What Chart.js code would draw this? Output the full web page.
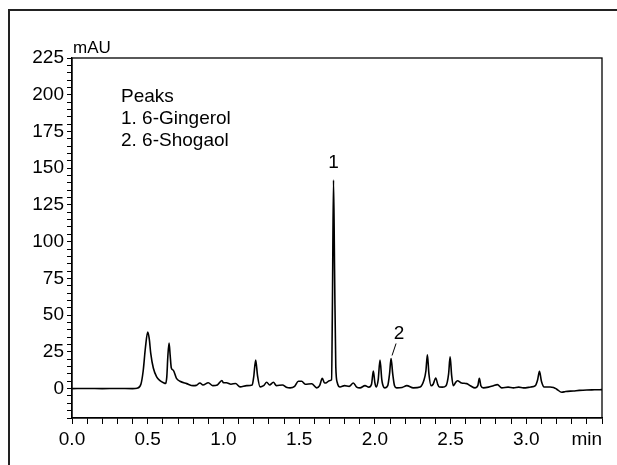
<!DOCTYPE html>
<html>
<head>
<meta charset="utf-8">
<script src="https://cdn.jsdelivr.net/npm/chart.js@4/dist/chart.umd.min.js"></script>
<style>
  html, body { margin: 0; padding: 0; background: #fff; }
  #wrap { width: 617px; height: 465px; }
</style>
</head>
<body>
<div id="wrap"><canvas id="chrom"></canvas></div>
<script>
// retention time (min) and absorbance (mAU)
const times = [
    0.00, 0.10, 0.20, 0.30, 0.40, 0.43, 0.455, 0.47, 0.485, 0.50,
    0.51, 0.52, 0.537, 0.559, 0.581, 0.605, 0.618, 0.626, 0.633, 0.641,
    0.648, 0.656, 0.669, 0.69, 0.713, 0.757, 0.80, 0.82, 0.845, 0.865,
    0.90, 0.93, 0.96, 0.99, 1.00, 1.02, 1.05, 1.08, 1.11, 1.154,
    1.19, 1.20, 1.213, 1.225, 1.242, 1.265, 1.286, 1.305, 1.33, 1.35,
    1.39, 1.415, 1.44, 1.47, 1.495, 1.517, 1.54, 1.583, 1.616, 1.635,
    1.653, 1.668, 1.68, 1.70, 1.714, 1.72, 1.727, 1.734, 1.742, 1.752,
    1.77, 1.80, 1.83, 1.858, 1.88, 1.902, 1.935, 1.96, 1.978, 1.99,
    2.00, 2.008, 2.022, 2.034, 2.046, 2.06, 2.067, 2.085, 2.097, 2.107,
    2.118, 2.13, 2.144, 2.18, 2.211, 2.254, 2.299, 2.325, 2.337, 2.347,
    2.357, 2.371, 2.385, 2.402, 2.415, 2.426, 2.446, 2.47, 2.487, 2.497,
    2.507, 2.518, 2.532, 2.545, 2.573, 2.607, 2.63, 2.662, 2.68, 2.69,
    2.70, 2.717, 2.75, 2.783, 2.809, 2.838, 2.88, 2.915, 2.95, 2.981,
    3.03, 3.06, 3.075, 3.087, 3.10, 3.118, 3.157, 3.18, 3.201, 3.234,
    3.26, 3.311, 3.35, 3.399, 3.45, 3.50
];
const mau = [
    0, 0.1, 0, 0.1, 0, 0.3, 3, 12, 28, 38.5,
    34, 24, 14, 8, 5.5, 4, 3.5, 8, 22, 31,
    23, 14, 12.5, 7, 5, 3.4, 2, 2.2, 3.8, 2.5,
    4, 2, 2.5, 5.5, 4, 4, 3, 3.5, 1.2, 2,
    2.5, 8, 19.5, 9, 1.2, 2, 4.3, 2.5, 4.3, 2,
    2.5, 1, 0.5, 1.5, 5, 5, 3, 3.3, 0.5, 2,
    7, 3.8, 4, 5.4, 6, 60, 142, 80, 15, 4,
    1.1, 2, 1.5, 3.8, 1, 0.5, 2, 1, 3, 12,
    4, 1.1, 6, 19.5, 6, 0.8, 0.5, 2, 10, 20.5,
    10, 2, 0.5, 0.8, 2, 0.5, 1.1, 6, 12, 23,
    10, 2, 3, 7.2, 3, 1.1, 1, 2, 10, 21.6,
    9, 2, 4, 5.4, 3.8, 3.4, 2, 0.5, 2, 7,
    2, 0.5, 1, 2, 2.7, 0.5, 1, 0.5, 1, 0.5,
    1.1, 2, 6, 11.7, 5, 1.1, 1.1, 0.8, -0.4, -2.5,
    -2, -1.6, -1.2, -0.9, -0.8, -0.7
];

const peakNames = ['Peaks', '1. 6-Gingerol', '2. 6-Shogaol'];
const peakMarks = [
    { text: '1', t: 1.727, v: 142 },
    { text: '2', t: 2.107, v: 20.5 }
];

const FONT = 'Arial, "Liberation Sans", sans-serif';
const TXT = 19;

const points = times.map((t, i) => ({ x: t, y: mau[i] }));

// frame, plot box, unit labels, legend text and peak numbers
const decorations = {
    id: 'decorations',
    afterDraw(chart) {
        const ctx = chart.ctx;
        const area = chart.chartArea;
        const xs = chart.scales.x;
        const ys = chart.scales.y;
        ctx.save();

        // outer figure frame (left + top only)
        ctx.strokeStyle = '#222';
        ctx.lineWidth = 2;
        ctx.beginPath();
        ctx.moveTo(9, 465);
        ctx.lineTo(9, 10);
        ctx.lineTo(617, 10);
        ctx.stroke();

        // plot box
        ctx.strokeStyle = '#000';
        ctx.lineWidth = 1.3;
        ctx.strokeRect(area.left, area.top, area.right - area.left, area.bottom - area.top);

        ctx.fillStyle = '#000';
        ctx.font = '17px ' + FONT;
        ctx.textAlign = 'left';
        ctx.textBaseline = 'alphabetic';
        ctx.fillText('mAU', area.left + 1, area.top - 5);

        ctx.font = TXT + 'px ' + FONT;
        ctx.textAlign = 'right';
        ctx.textBaseline = 'top';
        ctx.fillText('min', area.right, area.bottom + 12);

        // legend block
        ctx.textAlign = 'left';
        ctx.textBaseline = 'alphabetic';
        peakNames.forEach((s, i) => ctx.fillText(s, 121, 102 + i * 22));

        // peak numbers
        ctx.textAlign = 'center';
        const p1 = peakMarks[0];
        ctx.fillText(p1.text, xs.getPixelForValue(p1.t), ys.getPixelForValue(p1.v) - 12);

        const p2 = peakMarks[1];
        const px = xs.getPixelForValue(p2.t);
        const py = ys.getPixelForValue(p2.v);
        ctx.fillText(p2.text, px + 8, py - 19);
        ctx.lineWidth = 1;
        ctx.beginPath();
        ctx.moveTo(px + 5, py - 15);
        ctx.lineTo(px + 1, py - 3);
        ctx.stroke();

        ctx.restore();
    }
};

new Chart(document.getElementById('chrom'), {
    type: 'line',
    data: {
        datasets: [{
            data: points,
            borderColor: '#000',
            borderWidth: 1.6,
            pointRadius: 0,
            fill: false,
            cubicInterpolationMode: 'monotone'
        }]
    },
    options: {
        responsive: true,
        maintainAspectRatio: false,
        animation: false,
        layout: { padding: { top: 58, right: 15, left: 0, bottom: 0 } },
        plugins: { legend: { display: false }, tooltip: { enabled: false } },
        scales: {
            x: {
                type: 'linear',
                min: 0,
                max: 3.5,
                afterFit(scale) { scale.height = 47; },
                border: { display: true, color: '#000', width: 1.3 },
                grid: { drawOnChartArea: false, color: '#000', tickLength: 6, tickWidth: 1 },
                ticks: {
                    stepSize: 0.1,
                    autoSkip: false,
                    maxRotation: 0,
                    padding: 4,
                    color: '#000',
                    font: { family: FONT, size: TXT },
                    callback(v) {
                        const half = Math.round(v * 2);
                        if (Math.abs(v * 2 - half) > 1e-6 || v > 3.2) return '';
                        return (half / 2).toFixed(1);
                    }
                }
            },
            y: {
                min: -20,
                max: 225,
                afterFit(scale) { scale.width = 72; },
                border: { display: true, color: '#000', width: 1.3 },
                grid: { drawOnChartArea: false, color: '#000', tickLength: 5, tickWidth: 1 },
                ticks: {
                    stepSize: 5,
                    autoSkip: false,
                    padding: 3,
                    color: '#000',
                    font: { family: FONT, size: TXT },
                    callback(v) {
                        return (v >= 0 && v % 25 === 0) ? String(v) : '';
                    }
                }
            }
        }
    },
    plugins: [decorations]
});
</script>
</body>
</html>
